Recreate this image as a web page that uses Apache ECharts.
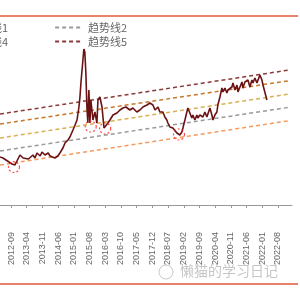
<!DOCTYPE html>
<html>
<head>
<meta charset="utf-8">
<script src="https://cdn.jsdelivr.net/npm/echarts@6/dist/echarts.min.js"></script>
<style>
html, body { margin: 0; padding: 0; background: #fff; }
#chart { width: 300px; height: 300px; }
</style>
</head>
<body>
<div id="chart"></div>
<script>
// x 轴刻度标签（每 7 个月一个）
var tickLabels = ['2012-09','2013-04','2013-11','2014-06','2015-01','2015-08','2016-03','2016-10','2017-05',
    '2017-12','2018-07','2019-02','2019-09','2020-04','2020-11','2021-06','2022-01','2022-08'];

// 价格走势
var priceDates = ['2012-04-04','2012-05-14','2012-06-24','2012-08-04','2012-09-14','2012-10-24','2012-11-20','2012-12-31',
    '2013-02-12','2013-03-08','2013-04-25','2013-05-15','2013-06-25','2013-07-22','2013-08-19','2013-10-01','2013-10-26','2013-12-05',
    '2014-01-18','2014-02-12','2014-03-10','2014-04-19','2014-05-29','2014-06-26','2014-08-06','2014-09-03','2014-10-13','2014-11-09','2014-12-20',
    '2015-01-17','2015-02-13','2015-03-11','2015-03-25','2015-04-07','2015-05-04','2015-05-17','2015-05-30','2015-06-13','2015-06-27',
    '2015-07-10','2015-07-24','2015-08-07','2015-08-20','2015-09-17','2015-10-14','2015-11-10','2015-11-24','2015-12-21',
    '2016-01-18','2016-02-14','2016-03-12','2016-04-08','2016-05-05','2016-06-15','2016-08-08','2016-09-18','2016-10-28','2016-12-08',
    '2017-01-31','2017-03-12','2017-05-05','2017-06-15','2017-07-26','2017-09-19','2017-10-29','2017-12-09',
    '2018-01-06','2018-02-16','2018-03-13','2018-04-23','2018-05-20','2018-06-16','2018-06-30','2018-07-27','2018-09-06','2018-10-03','2018-10-30','2018-12-10',
    '2019-01-06','2019-01-20','2019-02-16','2019-03-14','2019-03-28','2019-04-24','2019-05-21','2019-06-04','2019-07-01','2019-07-28','2019-08-11',
    '2019-09-07','2019-10-18','2019-11-14','2019-12-11',
    '2020-01-21','2020-02-17','2020-03-02','2020-03-29','2020-04-25','2020-05-08','2020-06-05','2020-07-02','2020-07-15','2020-08-12',
    '2020-09-08','2020-09-22','2020-10-19','2020-11-15','2020-11-29','2020-12-26',
    '2021-01-22','2021-02-05','2021-03-04','2021-03-31','2021-04-13','2021-05-10','2021-06-06','2021-06-20','2021-07-17','2021-08-13',
    '2021-08-27','2021-09-23','2021-10-20','2021-11-03','2021-11-30','2021-12-27',
    '2022-01-10','2022-02-06','2022-03-05'];
var priceValues = [960,940,900,860,820,800,840,1000,
    940,980,920,960,1000,940,1040,980,1060,1000,
    1040,980,1020,940,980,1040,1140,1240,1300,1360,1500,
    1600,1700,1960,2160,2440,2900,3120,3060,2640,1960,
    1640,2300,1640,2100,1700,1860,1640,2100,2160,
    1960,1540,1500,1640,1700,1800,1840,1900,1940,1960,
    1900,1940,1860,1900,1960,2000,2040,2000,
    1900,1960,1860,1860,1760,1700,1640,1560,1540,1500,1440,1400,
    1460,1540,1700,1860,1940,1840,1740,1800,1700,1800,1740,
    1800,1760,1860,1760,
    1940,1800,1700,1800,1860,2000,2160,2340,2260,2340,
    2240,2300,2260,2360,2440,2300,
    2400,2260,2360,2460,2340,2460,2440,2500,2360,2500,
    2440,2540,2440,2460,2600,2500,
    2400,2360,2100];

// 趋势线 1~5 起止点
var trendNames = ['趋势线1','趋势线2','趋势线3','趋势线4','趋势线5'];
var trendDates = ['2012-04-04','2023-01-01'];
var trendStart = [800,1080,1340,1620,1820];
var trendEnd = [1686,1954,2220,2486,2700];
var trendColors = ['#f39a5c','#9a9a9a','#d8b050','#c8782c','#8b3a3a'];

// 红色虚线圈标注的低点
var lowDates = ['2012-10-11','2015-08-18','2016-03-01','2018-11-28'];
var lowValues = [760,1570,1530,1410];

function toTime(s){
    var p = s.split('-');
    return new Date(+p[0], +p[1] - 1, p[2] ? +p[2] : 1).getTime();
}

var tickValues = tickLabels.map(toTime);

var series = [{
    name: '价格',
    type: 'line',
    symbol: 'none',
    z: 5,
    lineStyle: {color: '#6b1214', width: 1.6},
    data: priceDates.map(function(d, i){ return [toTime(d), priceValues[i]]; })
}];
trendNames.forEach(function(n, i){
    series.push({
        name: n,
        type: 'line',
        symbol: 'none',
        z: 3,
        itemStyle: {color: trendColors[i]},
        lineStyle: {color: trendColors[i], width: 1.5, type: [4, 3]},
        data: [[toTime(trendDates[0]), trendStart[i]], [toTime(trendDates[1]), trendEnd[i]]]
    });
});
series.push({
    name: '低点',
    type: 'scatter',
    symbol: 'circle',
    symbolSize: 11,
    z: 6,
    itemStyle: {color: 'rgba(0,0,0,0)', borderColor: '#ff2020', borderWidth: 1.2, borderType: [2, 2]},
    data: lowDates.map(function(d, i){ return [toTime(d), lowValues[i]]; })
});

var legendText = {fontSize: 11, color: '#666', fontFamily: 'Noto Sans CJK SC'};
var legendBase = {
    left: -70,
    itemGap: 46,
    itemWidth: 28,
    itemHeight: 14,
    itemStyle: {color: 'rgba(0,0,0,0)', borderWidth: 0, opacity: 0},
    textStyle: legendText
};

var myChart = echarts.init(document.getElementById('chart'));
var option = {
    animation: false,
    legend: [
        Object.assign({data: ['趋势线1','趋势线2'], top: 17}, legendBase),
        Object.assign({data: ['趋势线4','趋势线5'], top: 31}, legendBase)
    ],
    grid: {left: 0, right: 8, top: 40, bottom: 95},
    xAxis: {
        type: 'value',
        min: toTime('2012-04-04'),
        max: toTime('2023-02-08'),
        axisLine: {lineStyle: {color: '#999', width: 1}},
        axisTick: {show: true, length: 3, lineStyle: {color: '#999'}, customValues: tickValues},
        axisLabel: {
            customValues: tickValues,
            rotate: 90,
            margin: 27,
            fontSize: 9,
            color: '#666',
            fontFamily: 'Liberation Sans',
            formatter: function(v){
                var d = new Date(v);
                var m = d.getMonth() + 1;
                return d.getFullYear() + '-' + (m < 10 ? '0' + m : m);
            }
        },
        splitLine: {show: false}
    },
    yAxis: {
        type: 'value',
        min: 0,
        max: 3300,
        show: false
    },
    graphic: [
        {type: 'line', shape: {x1: 0, y1: 16, x2: 298, y2: 16}, style: {stroke: '#e8826a', lineWidth: 2}},
        {type: 'line', shape: {x1: 0, y1: 284, x2: 298, y2: 284}, style: {stroke: '#e8826a', lineWidth: 2}},
        {type: 'circle', shape: {cx: 166, cy: 272, r: 7}, style: {fill: 'none', stroke: 'rgba(160,160,160,0.6)', lineWidth: 1}},
        {type: 'text', left: 180, top: 264, style: {text: '懒猫的学习日记', fontSize: 14, fill: 'rgba(160,160,160,0.6)', fontFamily: 'Noto Sans CJK SC'}}
    ],
    series: series
};
myChart.setOption(option);
</script>
</body>
</html>
